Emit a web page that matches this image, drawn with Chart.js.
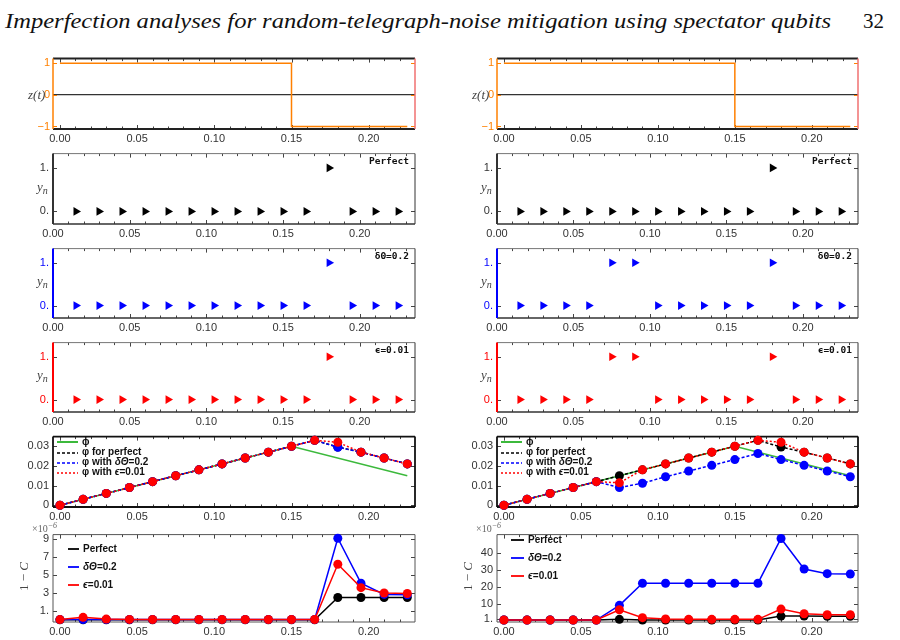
<!DOCTYPE html>
<html lang="en">
<head>
<meta charset="utf-8">
<title>Imperfection analyses – spectator qubits</title>
<script src="https://cdn.jsdelivr.net/npm/chart.js@4.4.1/dist/chart.umd.min.js"></script>
<style>
  html, body { margin: 0; padding: 0; background: #fff; }
  body { position: relative; width: 900px; height: 640px; overflow: hidden;
         font-family: "Liberation Sans", Arial, sans-serif; color: #333; }
  .panel { position: absolute; }
  .txt { position: absolute; white-space: nowrap; line-height: 1; }
  .head { font-family: "Liberation Serif", serif; font-style: italic; font-size: 21px; color: #111;
          top: 11px; left: 5px; transform-origin: 0 0; }
  .page { font-family: "Liberation Serif", serif; font-size: 21px; color: #111; top: 11px; left: 863px; }
  .ylab { font-family: "Liberation Serif", serif; font-style: italic; font-size: 13px; color: #444; }
  .ylab sub { font-size: 10px; vertical-align: -3px; }
  .tag { font-family: "DejaVu Sans Mono", monospace; font-weight: bold; font-size: 9.5px; color: #111; }
  .leg { font-weight: bold; font-size: 10px; color: #111; }
  .sw { position: absolute; overflow: visible; }
  .mult { font-family: "Liberation Serif", serif; font-size: 10px; color: #666; }
  .mult sup { font-size: 8px; font-style: italic; }
</style>
</head>
<body>
<span class="txt head" id="head">Imperfection analyses for random-telegraph-noise mitigation using spectator qubits</span>
<span class="txt page">32</span>

<script>
// ── Données ───────────────────────────────────────────────────────────────
// temps des mesures (s)
const tMeas = [0.015, 0.03, 0.045, 0.06, 0.075, 0.09, 0.105, 0.12, 0.135, 0.15, 0.165, 0.18, 0.195, 0.21, 0.225];
const tPhi  = [0, 0.015, 0.03, 0.045, 0.06, 0.075, 0.09, 0.105, 0.12, 0.135, 0.15, 0.165, 0.18, 0.195, 0.21, 0.225];

// bruit télégraphique z(t) : instants de bascule et valeurs
const zTimes  = [0, 0.15, 0.225];
const zValues = [1, -1, -1];

// résultats de mesure y_n
const ynPerfect     = [0, 0, 0, 0, 0, 0, 0, 0, 0, 0, 0, 1, 0, 0, 0];
const ynLeftDTheta  = [0, 0, 0, 0, 0, 0, 0, 0, 0, 0, 0, 1, 0, 0, 0];
const ynLeftEps     = [0, 0, 0, 0, 0, 0, 0, 0, 0, 0, 0, 1, 0, 0, 0];
const ynRightDTheta = [0, 0, 0, 0, 1, 1, 0, 0, 0, 0, 0, 1, 0, 0, 0];
const ynRightEps    = [0, 0, 0, 0, 1, 1, 0, 0, 0, 0, 0, 1, 0, 0, 0];

// phase vraie ϕ et estimations φ
const phiTrueT = [0, 0.15, 0.225];
const phiTrue  = [0, 0.030, 0.015];
const phiPerfect     = [0, .003, .006, .009, .012, .015, .018, .021, .024, .027, .030, .033, .0296, .027, .024, .021];
const phiLeftDTheta  = [0, .003, .006, .009, .012, .015, .018, .021, .024, .027, .030, .033, .0295, .027, .024, .021];
const phiLeftEps     = [0, .003, .006, .009, .012, .015, .018, .021, .024, .027, .030, .033, .0320, .027, .024, .021];
const phiRightDTheta = [0, .003, .006, .009, .012, .0090, .0112, .0145, .0174, .0203, .0232, .0263, .0232, .0203, .0174, .0145];
const phiRightEps    = [0, .003, .006, .009, .012, .0114, .018, .021, .024, .027, .030, .033, .0320, .027, .024, .021];

// infidélité 1 - C (×10^-6)
const infLeftPerfect  = [0.03, 0.03, 0.03, 0.03, 0.03, 0.03, 0.03, 0.03, 0.03, 0.03, 0.03, 0.03, 2.5, 2.5, 2.5, 2.5];
const infLeftDTheta   = [0.05, 0.05, 0.05, 0.05, 0.05, 0.05, 0.05, 0.05, 0.05, 0.05, 0.05, 0.05, 9.1, 4.1, 2.85, 2.8];
const infLeftEps      = [0.05, 0.3, 0.1, 0.07, 0.06, 0.06, 0.06, 0.06, 0.06, 0.06, 0.06, 0.06, 6.2, 3.6, 3.0, 2.95];
const infRightPerfect = [0.6, 0.6, 0.6, 0.6, 0.6, 1.0, 0.6, 0.6, 0.6, 0.6, 0.6, 0.6, 2.9, 2.9, 2.8, 2.8];
const infRightDTheta  = [0.6, 0.6, 0.6, 0.6, 0.6, 9.2, 22.2, 22.2, 22.2, 22.2, 22.2, 22.2, 48.4, 30.5, 27.8, 27.6];
const infRightEps     = [0.6, 0.6, 0.6, 0.6, 0.6, 6.6, 2.0, 1.2, 1.0, 1.0, 1.0, 1.0, 7.0, 4.3, 3.7, 3.7];

// graduations
const xTicks      = [0, 0.05, 0.10, 0.15, 0.20];
const xMinorTicks = [0.01, 0.02, 0.03, 0.04, 0.06, 0.07, 0.08, 0.09, 0.11, 0.12, 0.13, 0.14, 0.16, 0.17, 0.18, 0.19, 0.21, 0.22, 0.23];
const zTicks   = [1, 0, -1];
const zLabels  = ['1', '0', '\u22121'];
const ynTicks  = [1, 0];
const ynLabels = ['1.', '0.'];
const phiTicks  = [0.03, 0.02, 0.01, 0];
const phiLabels = ['0.03', '0.02', '0.01', '0'];
const infLeftTicks   = [9, 7, 5, 3, 1];
const infLeftLabels  = ['9', '7', '5', '3', '1.'];
const infRightTicks  = [40, 30, 20, 10, 1];
const infRightLabels = ['40', '30', '20', '10', '1.'];

// ── Couleurs ──────────────────────────────────────────────────────────────
const ORANGE = '#ff8000';
const BLUE   = '#0000ff';
const RED    = '#ff0000';
const BLACK  = '#000000';
const GREEN  = '#3cb93c';

// ── Géométrie des panneaux (zone de tracé) ────────────────────────────────
const COLS = [[53, 415], [497, 858]];
const ROWS = [[57, 129], [151, 224], [246, 318], [340, 412], [434, 507], [532, 622]];
const YW = 46, PT = 8, PR = 8, XH = 18;

// Cadre façon Mathematica + graduations intérieures
const framePlugin = {
  id: 'frame',
  beforeDatasetsDraw(chart, args, opts) {
    if (!opts || !opts.sides) return;
    const { ctx, chartArea: a, scales } = chart;
    const seg = (x1, y1, x2, y2) => { ctx.beginPath(); ctx.moveTo(x1, y1); ctx.lineTo(x2, y2); ctx.stroke(); };
    ctx.save();
    ctx.strokeStyle = '#444';
    ctx.lineWidth = 1;
    for (const v of xMinorTicks) {
      const px = Math.round(scales.x.getPixelForValue(v)) + 0.5;
      if (px < a.left + 1 || px > a.right - 1) continue;
      seg(px, a.bottom, px, a.bottom - 2.5);
      seg(px, a.top, px, a.top + 2.5);
    }
    for (const v of xTicks) {
      const px = Math.round(scales.x.getPixelForValue(v)) + 0.5;
      seg(px, a.bottom, px, a.bottom - 4);
      seg(px, a.top, px, a.top + 4);
    }
    ctx.strokeStyle = opts.yTickColor || '#444';
    for (const t of scales.y.ticks) {
      const py = Math.round(scales.y.getPixelForValue(t.value)) + 0.5;
      seg(a.left, py, a.left + 4, py);
      seg(a.right, py, a.right - 4, py);
    }
    const s = opts.sides;
    const side = (cfg, x1, y1, x2, y2) => { ctx.strokeStyle = cfg[0]; ctx.lineWidth = cfg[1]; seg(x1, y1, x2, y2); };
    side(s.top,    a.left, a.top,    a.right, a.top);
    side(s.bottom, a.left, a.bottom, a.right, a.bottom);
    side(s.left,   a.left, a.top,    a.left,  a.bottom);
    side(s.right,  a.right, a.top,   a.right, a.bottom);
    ctx.restore();
  }
};
Chart.register(framePlugin);

function pts(xs, ys) { return xs.map((x, i) => ({ x, y: ys[i] })); }

function markers(xs, ys, color) {
  return {
    data: pts(xs, ys), showLine: false, clip: false,
    pointStyle: 'triangle', pointRotation: 90, pointRadius: 5,
    pointBackgroundColor: color, pointBorderColor: color, pointBorderWidth: 0,
  };
}

function curve(xs, ys, color, extra) {
  return Object.assign({
    data: pts(xs, ys), showLine: true, clip: false,
    borderColor: color, borderWidth: 1.5, backgroundColor: color,
    pointRadius: 4.5, pointBackgroundColor: color, pointBorderColor: color, pointBorderWidth: 0,
  }, extra);
}

function text(html, cls, style) {
  const el = document.createElement('span');
  el.className = 'txt ' + cls;
  el.innerHTML = html;
  Object.assign(el.style, style);
  document.body.appendChild(el);
  return el;
}

function panel(col, row, cfg) {
  const [L, R] = COLS[col];
  const [T, B] = ROWS[row];
  const w = R - L + YW + PR, h = B - T + PT + XH;
  const box = document.createElement('div');
  box.className = 'panel';
  Object.assign(box.style, { left: (L - YW) + 'px', top: (T - PT) + 'px', width: w + 'px', height: h + 'px' });
  const cv = document.createElement('canvas');
  cv.width = w; cv.height = h;
  box.appendChild(cv);
  document.body.appendChild(box);

  const font = { family: '"Liberation Sans", Arial, sans-serif', size: 11 };
  return new Chart(cv, {
    type: 'scatter',
    data: { datasets: cfg.datasets },
    options: {
      responsive: false,
      animation: false,
      devicePixelRatio: 1,
      events: [],
      layout: { padding: { top: PT, right: PR, left: 0, bottom: 0 } },
      plugins: {
        legend: { display: false },
        tooltip: { enabled: false },
        frame: { sides: cfg.sides, yTickColor: cfg.yTickColor },
      },
      elements: { line: { tension: 0 } },
      scales: {
        x: {
          type: 'linear', min: cfg.xMin, max: cfg.xMax,
          afterFit: s => { s.height = XH; },
          afterBuildTicks: s => { s.ticks = xTicks.map(v => ({ value: v })); },
          grid: { display: false, drawTicks: false },
          border: { display: false },
          ticks: { color: '#333', font, padding: 3, maxRotation: 0, autoSkip: false,
                   callback: v => v.toFixed(2) },
        },
        y: {
          type: 'linear', min: cfg.yMin, max: cfg.yMax,
          afterFit: s => { s.width = YW; },
          afterBuildTicks: s => { s.ticks = cfg.yTicks.map(v => ({ value: v })); },
          grid: cfg.yGrid || { display: false, drawTicks: false },
          border: { display: false },
          ticks: { color: cfg.yColor || '#333', font, padding: cfg.yPad || 4, autoSkip: false,
                   callback: (v, i) => cfg.yLabels[i] },
        },
      },
    },
  });
}

const SVGNS = 'http://www.w3.org/2000/svg';
function legend(x, y, rows, gap, swLen) {
  rows.forEach((r, i) => {
    const cy = y + i * gap;
    const svg = document.createElementNS(SVGNS, 'svg');
    svg.setAttribute('class', 'sw');
    svg.setAttribute('width', swLen);
    svg.setAttribute('height', 6);
    svg.style.left = x + 'px';
    svg.style.top = (cy - 3) + 'px';
    const ln = document.createElementNS(SVGNS, 'line');
    ln.setAttribute('x1', 0); ln.setAttribute('x2', swLen);
    ln.setAttribute('y1', 3); ln.setAttribute('y2', 3);
    ln.setAttribute('stroke', r.color);
    ln.setAttribute('stroke-width', r.w);
    if (r.dash) ln.setAttribute('stroke-dasharray', r.dash);
    svg.appendChild(ln);
    document.body.appendChild(svg);
    text(r.label, 'leg', { left: (x + swLen + 4) + 'px', top: (cy - 5.5) + 'px' });
  });
}

const frameDark  = { top: ['#222', 2], bottom: ['#222', 2], left: [ORANGE, 1.5], right: ['#f07070', 1.5] };
const framePhi   = { top: ['#111', 1.8], bottom: ['#111', 1.8], left: ['#111', 1.8], right: ['#111', 1.8] };
const frameInf   = { top: ['#555', 1], bottom: ['#555', 1], left: ['#555', 1], right: ['#555', 1] };
const frameYn = c => ({ top: ['#777', 1], bottom: ['#333', 1.5], left: [c, 2], right: ['#333', 1] });

const ynSets = [
  [[ynPerfect, BLACK, 'Perfect'], [ynLeftDTheta, BLUE, '\u03b4\u0398=0.2'], [ynLeftEps, RED, '\u03f5=0.01']],
  [[ynPerfect, BLACK, 'Perfect'], [ynRightDTheta, BLUE, '\u03b4\u0398=0.2'], [ynRightEps, RED, '\u03f5=0.01']],
];
const phiSets = [[phiLeftDTheta, phiLeftEps], [phiRightDTheta, phiRightEps]];
const infSets = [
  { p: infLeftPerfect, d: infLeftDTheta, e: infLeftEps, min: -0.22, max: 9.5, ticks: infLeftTicks, labels: infLeftLabels,
    leg: [15, 17.3, 18, 11] },
  { p: infRightPerfect, d: infRightDTheta, e: infRightEps, min: -0.55, max: 50.7, ticks: infRightTicks, labels: infRightLabels,
    leg: [14, 8, 18, 13] },
];

for (let col = 0; col < 2; col++) {
  const [L, R] = COLS[col];

  // z(t)
  panel(col, 0, {
    xMin: -0.0045, xMax: 0.23, yMin: -1.08, yMax: 1.145,
    yTicks: zTicks, yLabels: zLabels, yColor: ORANGE, yPad: 3, yTickColor: ORANGE,
    yGrid: { display: true, drawOnChartArea: true, drawTicks: false,
             color: c => (c.tick && c.tick.value === 0 ? '#333' : 'rgba(0,0,0,0)'), lineWidth: 1.2 },
    sides: frameDark,
    datasets: [{ data: pts(zTimes, zValues), showLine: true, stepped: 'before', borderColor: ORANGE,
                 borderWidth: 1.5, pointRadius: 0, clip: false }],
  });
  text('z(t)', 'ylab', { left: (L - 25) + 'px', top: '88px' });

  // y_n
  ynSets[col].forEach(([ys, color, tag], k) => {
    const row = k + 1;
    panel(col, row, {
      xMin: 0, xMax: 0.236, yMin: -0.29, yMax: 1.33,
      yTicks: ynTicks, yLabels: ynLabels, yColor: color === BLACK ? '#333' : color,
      sides: frameYn(color === BLACK ? '#333' : color),
      datasets: [markers(tMeas, ys, color)],
    });
    const [T, B] = ROWS[row];
    text('y<sub>n</sub>', 'ylab', { left: (L - 16) + 'px', top: ((T + B) / 2 - 8) + 'px' });
    text(tag, 'tag', { right: (900 - (R - 6)) + 'px', top: (T + 5) + 'px' });
  });

  // φ
  const [pd, pe] = phiSets[col];
  panel(col, 4, {
    xMin: -0.0045, xMax: 0.23, yMin: -0.0009, yMax: 0.0349,
    yTicks: phiTicks, yLabels: phiLabels, sides: framePhi,
    datasets: [
      curve(tPhi, pe, RED, { borderDash: [2, 2] }),
      curve(tPhi, pd, BLUE, { borderDash: [3, 2] }),
      curve(tPhi, phiPerfect, BLACK, { borderDash: [3, 2] }),
      curve(phiTrueT, phiTrue, GREEN, { pointRadius: 0 }),
    ],
  });
  legend(L + 4, ROWS[4][0] + 8.3, [
    { color: GREEN, w: 2, label: '\u03d5' },
    { color: BLACK, w: 1.5, dash: '3 2', label: '\u03c6 for perfect' },
    { color: BLUE, w: 1.5, dash: '3 2', label: '\u03c6 with <i>\u03b4\u0398</i>=0.2' },
    { color: RED, w: 1.5, dash: '2 2', label: '\u03c6 with <i>\u03f5</i>=0.01' },
  ], 10.2, 21);

  // 1 - C
  const s = infSets[col];
  panel(col, 5, {
    xMin: -0.0045, xMax: 0.23, yMin: s.min, yMax: s.max,
    yTicks: s.ticks, yLabels: s.labels, sides: frameInf,
    datasets: [
      curve(tPhi, s.e, RED),
      curve(tPhi, s.d, BLUE),
      curve(tPhi, s.p, BLACK),
    ],
  });
  const [T5, B5] = ROWS[5];
  legend(L + s.leg[0], T5 + s.leg[1], [
    { color: BLACK, w: 1.8, label: 'Perfect' },
    { color: BLUE, w: 1.8, label: '<i>\u03b4\u0398</i>=0.2' },
    { color: RED, w: 1.8, label: '<i>\u03f5</i>=0.01' },
  ], s.leg[2], s.leg[3]);
  text('\u00d710<sup>\u22126</sup>', 'mult', { left: (L - 21) + 'px', top: '522px' });
  const yl = text('1 \u2212 <i>C</i>', 'ylab', { left: (L - 44) + 'px', top: ((T5 + B5) / 2 - 7) + 'px' });
  yl.style.fontStyle = 'normal';
  yl.style.transform = 'rotate(-90deg)';
}

// ajuster la largeur du titre courant
const head = document.getElementById('head');
head.style.transform = `scaleX(${826 / head.getBoundingClientRect().width})`;
</script>
</body>
</html>
